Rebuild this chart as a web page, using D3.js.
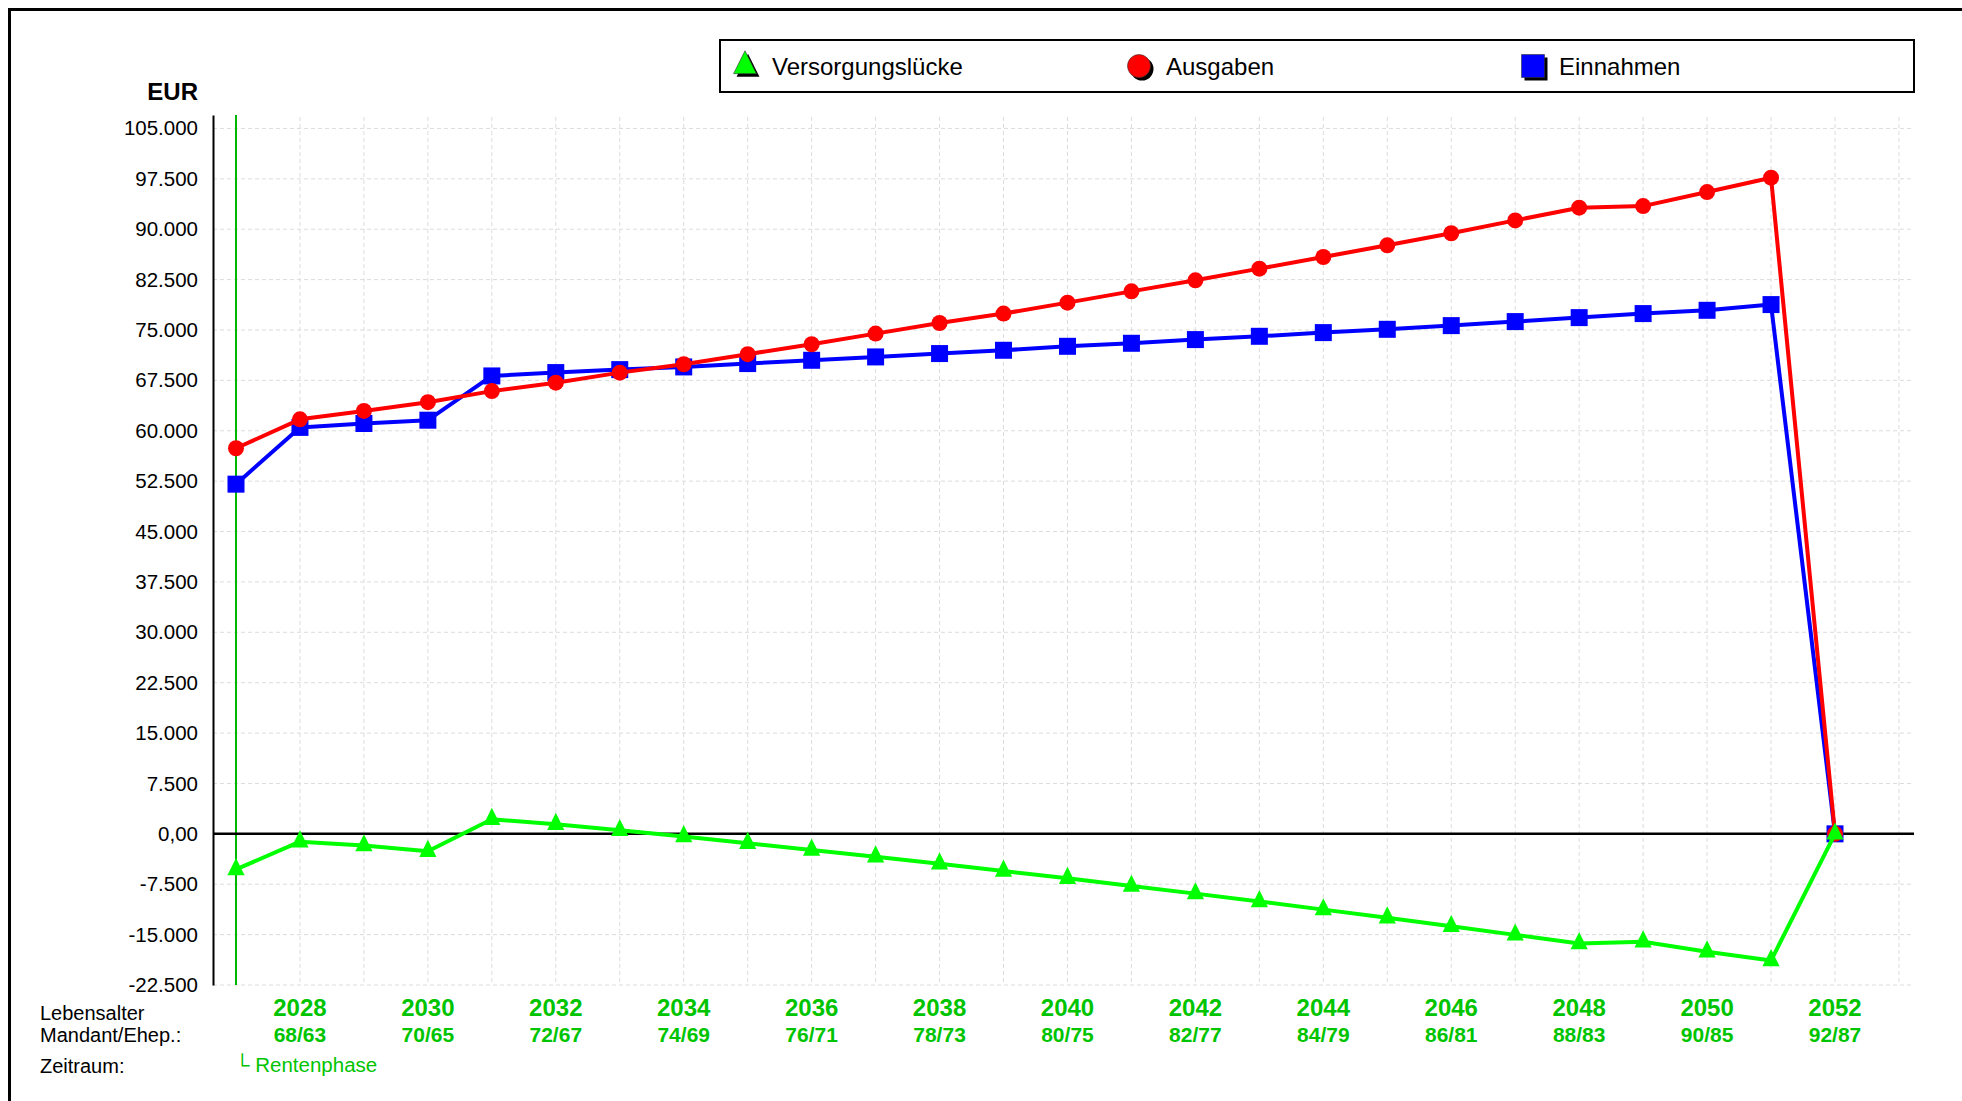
<!DOCTYPE html>
<html lang="de">
<head>
    <meta charset="UTF-8">
    <script src="https://d3js.org/d3.v7.min.js"></script>
    <style>
        body { margin: 0; background: #fff; }
        text { font-family: "Liberation Sans", Arial, sans-serif; }
        .grid line { stroke: #dcdcdc; stroke-width: 1px; stroke-dasharray: 4,3; }
        .tick-label { font-size: 20.5px; fill: #000; }
        .legend-text { font-size: 24px; fill: #000; }
        .year { font-size: 24px; font-weight: bold; fill: #00c400; text-anchor: middle; }
        .age { font-size: 21px; font-weight: bold; fill: #00c400; text-anchor: middle; }
        .row-label { font-size: 20px; fill: #000; }
    </style>
</head>
<body>
    <svg id="chart"></svg>
    <script>
        // Jahre der Rentenphase
        const years = [2027, 2028, 2029, 2030, 2031, 2032, 2033, 2034, 2035, 2036, 2037, 2038, 2039,
                       2040, 2041, 2042, 2043, 2044, 2045, 2046, 2047, 2048, 2049, 2050, 2051, 2052];

        const ausgaben = [57400, 61700, 62950, 64250, 65900, 67150, 68650, 69900, 71400, 72880, 74460, 76040, 77440,
                          79070, 80750, 82390, 84130, 85860, 87600, 89400, 91310, 93200, 93440, 95530, 97670, 0];

        const einnahmen = [52050, 60500, 61080, 61570, 68160, 68660, 69100, 69500, 70000, 70490, 70990, 71490, 71980,
                           72570, 73020, 73570, 74060, 74610, 75100, 75650, 76250, 76840, 77440, 77930, 78780, 0];

        const luecke = [-5300, -1170, -1750, -2580, 2170, 1420, 520, -400, -1400, -2390, -3420, -4450, -5530,
                        -6620, -7780, -8900, -10060, -11280, -12480, -13770, -15040, -16310, -16060, -17550, -18860, 0];

        // Beschriftung der x-Achse (nur gerade Jahre)
        const labelYears = [2028, 2030, 2032, 2034, 2036, 2038, 2040, 2042, 2044, 2046, 2048, 2050, 2052];
        const ageLabels = ["68/63", "70/65", "72/67", "74/69", "76/71", "78/73", "80/75", "82/77", "84/79",
                           "86/81", "88/83", "90/85", "92/87"];
        const gridYears = [2028, 2029, 2030, 2031, 2032, 2033, 2034, 2035, 2036, 2037, 2038, 2039, 2040,
                           2041, 2042, 2043, 2044, 2045, 2046, 2047, 2048, 2049, 2050, 2051, 2052, 2053];

        const yTicks = [105000, 97500, 90000, 82500, 75000, 67500, 60000, 52500, 45000, 37500, 30000,
                        22500, 15000, 7500, 0, -7500, -15000, -22500];
        const yTickLabels = ["105.000", "97.500", "90.000", "82.500", "75.000", "67.500", "60.000", "52.500",
                             "45.000", "37.500", "30.000", "22.500", "15.000", "7.500", "0,00", "-7.500",
                             "-15.000", "-22.500"];

        const width = 1962, height = 1101;
        const plot = { left: 213, right: 1914, top: 115, bottom: 985 };

        const svg = d3.select("#chart")
            .attr("width", width)
            .attr("height", height);

        // Rahmen
        svg.append("rect")
            .attr("x", 9.5).attr("y", 9.5)
            .attr("width", 2100).attr("height", 2100)
            .attr("fill", "none")
            .attr("stroke", "#000")
            .attr("stroke-width", 3);

        const x = d3.scaleLinear()
            .domain([2027, 2052])
            .range([236, 1835]);

        const y = d3.scaleLinear()
            .domain([-22500, 107000])
            .range([plot.bottom, plot.top]);

        // Dreieck mit Spitze oben, Schwerpunkt im Datenpunkt
        const triangle = {
            draw(ctx, size) {
                const h = Math.sqrt(size) * 1.3;
                const w = Math.sqrt(size) * 0.65;
                ctx.moveTo(0, -h * 2 / 3);
                ctx.lineTo(w, h / 3);
                ctx.lineTo(-w, h / 3);
                ctx.closePath();
            }
        };

        // Gitter
        const grid = svg.append("g").attr("class", "grid");
        grid.selectAll(".h")
            .data(yTicks)
            .enter().append("line")
            .attr("x1", plot.left).attr("x2", plot.right)
            .attr("y1", d => y(d)).attr("y2", d => y(d));
        grid.selectAll(".v")
            .data(gridYears)
            .enter().append("line")
            .attr("x1", d => x(d)).attr("x2", d => x(d))
            .attr("y1", plot.top + 2).attr("y2", plot.bottom);

        // y-Achse
        const yAxis = svg.append("g")
            .attr("transform", `translate(${plot.left},0)`)
            .call(d3.axisLeft(y)
                .tickValues(yTicks)
                .tickSize(0)
                .tickPadding(15)
                .tickFormat((d, i) => yTickLabels[i]));
        yAxis.select(".domain").attr("stroke", "#000").attr("stroke-width", 2);
        yAxis.selectAll("text")
            .attr("class", "tick-label")
            .attr("font-family", null)
            .attr("font-size", null);

        svg.append("text")
            .attr("x", 198).attr("y", 100)
            .attr("text-anchor", "end")
            .attr("font-size", 24).attr("font-weight", "bold")
            .text("EUR");

        // Beginn Rentenphase
        svg.append("line")
            .attr("x1", x(2027)).attr("x2", x(2027))
            .attr("y1", plot.top).attr("y2", plot.bottom)
            .attr("stroke", "#00b800").attr("stroke-width", 2);

        // Nulllinie
        svg.append("line")
            .attr("x1", plot.left).attr("x2", plot.right)
            .attr("y1", y(0)).attr("y2", y(0))
            .attr("stroke", "#000").attr("stroke-width", 2.5);

        const series = [
            { name: "Einnahmen", values: einnahmen, color: "#0000ff", symbol: d3.symbolSquare, size: 289 },
            { name: "Ausgaben", values: ausgaben, color: "#ff0000", symbol: d3.symbolCircle, size: 201 },
            { name: "Versorgungslücke", values: luecke, color: "#00ff00", symbol: triangle, size: 175 }
        ];

        const line = d3.line()
            .x(d => x(d[0]))
            .y(d => y(d[1]));

        series.forEach(s => {
            const pts = years.map((yr, i) => [yr, s.values[i]]);
            svg.append("path")
                .datum(pts)
                .attr("fill", "none")
                .attr("stroke", s.color)
                .attr("stroke-width", 4)
                .attr("stroke-linejoin", "round")
                .attr("d", line);
            svg.selectAll(null)
                .data(pts)
                .enter().append("path")
                .attr("transform", d => `translate(${x(d[0])},${y(d[1])})`)
                .attr("d", d3.symbol().type(s.symbol).size(s.size))
                .attr("fill", s.color);
        });

        // Legende
        svg.append("rect")
            .attr("x", 720).attr("y", 40)
            .attr("width", 1194).attr("height", 52)
            .attr("fill", "#fff")
            .attr("stroke", "#000").attr("stroke-width", 2);

        const legendItems = [
            { name: "Versorgungslücke", color: "#00ff00", symbol: triangle, size: 310, sx: 745, tx: 772 },
            { name: "Ausgaben", color: "#ff0000", symbol: d3.symbolCircle, size: 415, sx: 1139, tx: 1166 },
            { name: "Einnahmen", color: "#0000ff", symbol: d3.symbolSquare, size: 529, sx: 1533, tx: 1559 }
        ];
        legendItems.forEach(l => {
            const g = svg.append("g").attr("transform", `translate(${l.sx},66)`);
            g.append("path")
                .attr("transform", "translate(3,3)")
                .attr("d", d3.symbol().type(l.symbol).size(l.size))
                .attr("fill", "#000");
            g.append("path")
                .attr("d", d3.symbol().type(l.symbol).size(l.size))
                .attr("fill", l.color)
                .attr("stroke", "#333").attr("stroke-width", 0.6);
            svg.append("text")
                .attr("class", "legend-text")
                .attr("x", l.tx).attr("y", 75)
                .text(l.name);
        });

        // x-Beschriftung
        svg.selectAll(".year")
            .data(labelYears)
            .enter().append("text")
            .attr("class", "year")
            .attr("x", d => x(d)).attr("y", 1016)
            .text(d => d);
        svg.selectAll(".age")
            .data(labelYears)
            .enter().append("text")
            .attr("class", "age")
            .attr("x", d => x(d)).attr("y", 1042)
            .text((d, i) => ageLabels[i]);

        svg.append("text").attr("class", "row-label").attr("x", 40).attr("y", 1020).text("Lebensalter");
        svg.append("text").attr("class", "row-label").attr("x", 40).attr("y", 1042).text("Mandant/Ehep.:");
        svg.append("text").attr("class", "row-label").attr("x", 40).attr("y", 1073).text("Zeitraum:");

        svg.append("text")
            .attr("x", x(2027) - 1).attr("y", 1072)
            .attr("font-size", 20.5)
            .attr("fill", "#00c400")
            .text("└ Rentenphase");
    </script>
</body>
</html>
